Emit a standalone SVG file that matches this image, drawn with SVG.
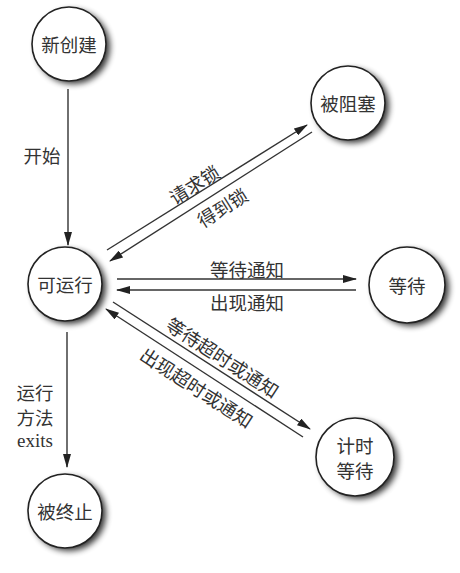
<svg xmlns="http://www.w3.org/2000/svg" width="460" height="573" viewBox="0 0 460 573">
<style>
.node circle{fill:#fff;stroke:#222;stroke-width:1.6}
.node circle.shadow{fill:#000;stroke:none;opacity:0.8;filter:url(#blur)}
text{font-family:"Noto Sans CJK SC","Liberation Serif",sans-serif;font-size:18.5px;fill:#333;text-anchor:middle;dominant-baseline:central}
.en{font-family:"Liberation Serif",serif;font-size:19px}
.edge line{stroke:#333;stroke-width:1.4}
</style>
<defs>
<filter id="blur" x="-30%" y="-30%" width="160%" height="160%"><feGaussianBlur stdDeviation="3"/></filter>
<marker id="arr" viewBox="0 0 14 8" refX="13" refY="4" markerWidth="14" markerHeight="8" markerUnits="userSpaceOnUse" orient="auto"><path d="M0,0 L14,4 L0,8 Z" fill="#222"/></marker>
</defs>
<rect width="460" height="573" fill="#fff"/>
<g id="n-new" class="node"><circle class="shadow" cx="73" cy="47" r="37"/><circle cx="69" cy="44" r="37"/><text x="69" y="44">新创建</text></g>
<g id="n-run" class="node"><circle class="shadow" cx="69" cy="287" r="37"/><circle cx="65" cy="284" r="37"/><text x="65" y="284">可运行</text></g>
<g id="n-block" class="node"><circle class="shadow" cx="352" cy="106" r="37"/><circle cx="348" cy="103" r="37"/><text x="348" y="103">被阻塞</text></g>
<g id="n-wait" class="node"><circle class="shadow" cx="411" cy="288" r="38"/><circle cx="407" cy="285" r="38"/><text x="407" y="285">等待</text></g>
<g id="n-timed" class="node"><circle class="shadow" cx="359" cy="460" r="39"/><circle cx="355" cy="457" r="39"/><text x="355" y="445">计时</text><text x="355" y="470">等待</text></g>
<g id="n-term" class="node"><circle class="shadow" cx="69" cy="514" r="37"/><circle cx="65" cy="511" r="37"/><text x="65" y="511">被终止</text></g>
<g id="edges" class="edge">
<line x1="68" y1="89" x2="68" y2="245" marker-end="url(#arr)"/>
<line x1="107" y1="250" x2="307" y2="125" marker-end="url(#arr)"/>
<line x1="312" y1="132" x2="110" y2="261" marker-end="url(#arr)"/>
<line x1="117" y1="279" x2="356" y2="279" marker-end="url(#arr)"/>
<line x1="356" y1="290" x2="117" y2="290" marker-end="url(#arr)"/>
<line x1="113" y1="302" x2="310" y2="429" marker-end="url(#arr)"/>
<line x1="303" y1="437" x2="106" y2="309" marker-end="url(#arr)"/>
<line x1="67" y1="332" x2="67" y2="467" marker-end="url(#arr)"/>
</g>
<g id="labels">
<text x="42" y="155">开始</text>
<text x="194" y="184" transform="rotate(-32 194 184)">请求锁</text>
<text x="222" y="207" transform="rotate(-32 222 207)">得到锁</text>
<text x="247" y="269">等待通知</text>
<text x="247" y="302">出现通知</text>
<text x="223" y="357" transform="rotate(33 223 357)">等待超时或通知</text>
<text x="197" y="387" transform="rotate(33 197 387)">出现超时或通知</text>
<text x="35" y="392">运行</text>
<text x="35" y="417">方法</text>
<text x="35" y="440" class="en">exits</text>
</g>
</svg>
